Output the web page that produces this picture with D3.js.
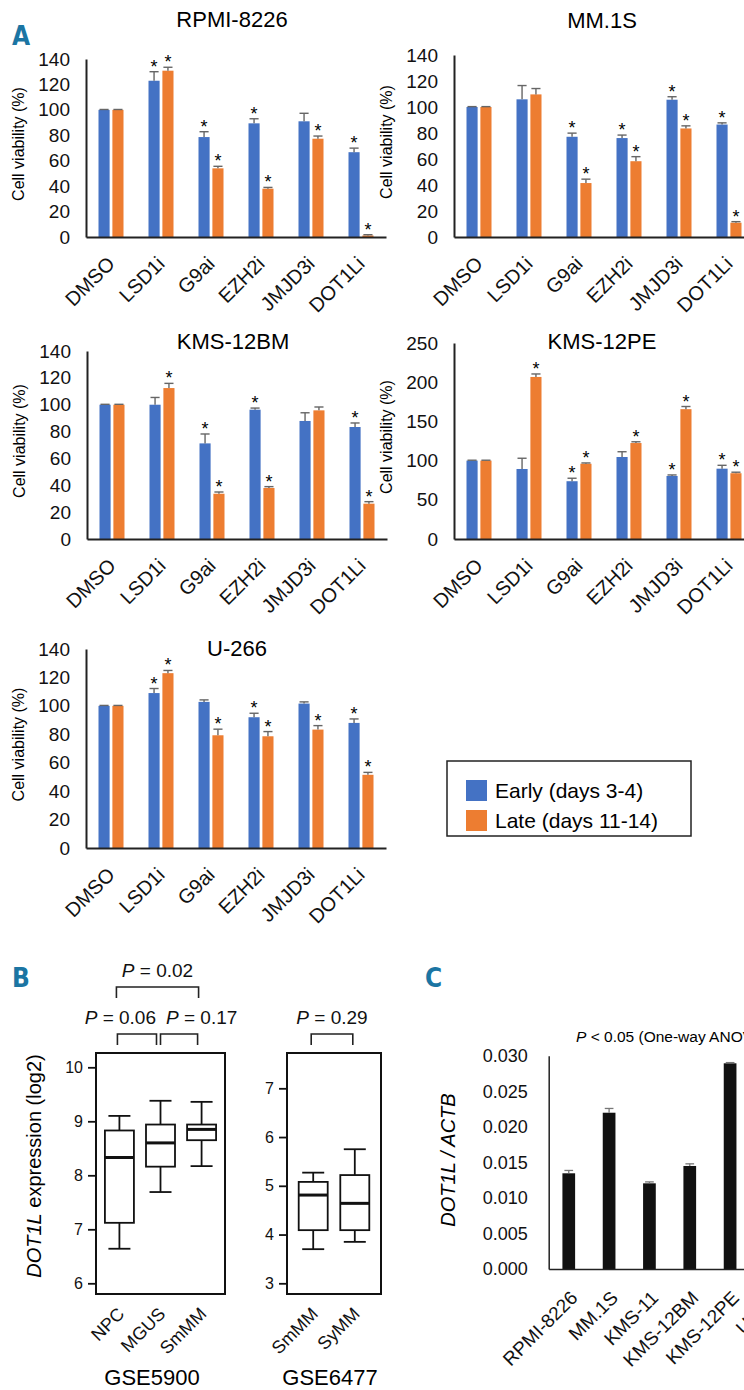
<!DOCTYPE html>
<html>
<head>
<meta charset="utf-8">
<script src="https://cdn.jsdelivr.net/npm/d3@7"></script>
<style>
  body { margin: 0; background: #fff; }
  svg { display: block; font-family: "Liberation Sans", Arial, sans-serif; }
</style>
</head>
<body>
<svg id="fig" width="744" height="1390"></svg>
<script>
// Panel A: viability after epigenetic inhibitors (early vs late)
var treatments = ["DMSO", "LSD1i", "G9ai", "EZH2i", "JMJD3i", "DOT1Li"];
var seriesNames = ["Early (days 3-4)", "Late (days 11-14)"];

var rpmiEarly = [100, 122.9, 78.6, 89.4, 91.0, 66.7];
var rpmiEarlySd = [0.3, 7.1, 4.2, 3.6, 6.3, 3.2];
var rpmiLate = [100, 130.8, 54.0, 38.0, 77.3, 1.2];
var rpmiLateSd = [0.3, 2.7, 1.6, 1.0, 2.1, 0.6];
var rpmiStarEarly = [0, 1, 1, 1, 0, 1];
var rpmiStarLate = [0, 1, 1, 1, 1, 1];

var mm1sEarly = [100, 105.9, 77.1, 76.1, 105.6, 86.5];
var mm1sEarlySd = [0.3, 10.6, 2.8, 2.3, 2.3, 1.3];
var mm1sLate = [100, 109.7, 41.5, 58.3, 83.5, 11.0];
var mm1sLateSd = [0.3, 4.5, 3.0, 3.5, 2.0, 0.8];
var mm1sStarEarly = [0, 0, 1, 1, 1, 1];
var mm1sStarLate = [0, 0, 1, 1, 1, 1];

var bmEarly = [100, 100, 71.2, 96.3, 87.9, 83.4];
var bmEarlySd = [0.3, 5.4, 7.0, 1.2, 6.1, 3.0];
var bmLate = [100, 112.4, 33.7, 38.0, 95.8, 26.3];
var bmLateSd = [0.3, 3.5, 1.3, 1.0, 2.5, 1.5];
var bmStarEarly = [0, 0, 1, 1, 0, 1];
var bmStarLate = [0, 1, 1, 1, 0, 1];

var peEarly = [100, 89.3, 73.7, 104.6, 80.4, 89.7];
var peEarlySd = [0.5, 13.7, 3.8, 6.7, 1.3, 4.3];
var peLate = [100, 206.7, 96.0, 122.4, 165.6, 83.9];
var peLateSd = [0.5, 3.8, 1.0, 1.6, 3.4, 1.3];
var peStarEarly = [0, 0, 1, 0, 1, 1];
var peStarLate = [0, 1, 1, 1, 1, 1];

var u266Early = [100, 109.0, 102.8, 92.0, 101.6, 88.0];
var u266EarlySd = [0.3, 3.2, 1.4, 2.8, 1.2, 2.8];
var u266Late = [100, 123.0, 79.3, 78.6, 83.3, 51.5];
var u266LateSd = [0.3, 1.9, 4.3, 3.3, 2.8, 1.7];
var u266StarEarly = [0, 1, 0, 1, 0, 1];
var u266StarLate = [0, 1, 1, 1, 1, 1];

// Panel B: DOT1L expression boxplots
var gse5900Groups = ["NPC", "MGUS", "SmMM"];
var gse5900Min = [6.64, 7.69, 8.17];
var gse5900Q1 = [7.12, 8.16, 8.65];
var gse5900Med = [8.33, 8.60, 8.85];
var gse5900Q3 = [8.83, 8.94, 8.94];
var gse5900Max = [9.10, 9.38, 9.36];

var gse6477Groups = ["SmMM", "SyMM"];
var gse6477Min = [3.70, 3.85];
var gse6477Q1 = [4.09, 4.09];
var gse6477Med = [4.81, 4.64];
var gse6477Q3 = [5.08, 5.22];
var gse6477Max = [5.27, 5.75];

// Panel C: DOT1L / ACTB in cell lines (last one runs off the page)
var cellLines = ["RPMI-8226", "MM.1S", "KMS-11", "KMS-12BM", "KMS-12PE", "U-266"];
var dot1lRatio = [0.01346, 0.02198, 0.01205, 0.01449, 0.02893, null];
var dot1lSd = [0.0004, 0.0006, 0.0002, 0.0003, 0.0001, null];

var blue = "#4472c4", orange = "#ed7d31", teal = "#1b75a3";
var svg = d3.select("#fig");
svg.append("rect").attr("width", 744).attr("height", 1390).attr("fill", "#fff");

// panel letters
[["A", 12, 45], ["B", 12, 987], ["C", 425, 987]].forEach(function(p) {
    svg.append("text")
        .attr("x", p[1]).attr("y", p[2])
        .attr("font-family", "'Liberation Sans Narrow', 'DejaVu Sans Condensed', sans-serif")
        .attr("font-weight", "bold").attr("font-size", 26)
        .attr("fill", teal).text(p[0]);
});

// one grouped bar chart of panel A
function barPanel(o) {
    var g = svg.append("g");
    var x0 = d3.scaleBand().domain(treatments).range([o.left, o.left + 300]).paddingInner(0.5).paddingOuter(0.25);
    var x1 = d3.scaleBand().domain([0, 1]).range([0, x0.bandwidth()]).paddingInner(0.2);
    var y = d3.scaleLinear().domain([0, o.max]).range([o.bottom, o.top]);

    var rows = [];
    treatments.forEach(function(t, i) {
        rows.push({t: t, s: 0, v: o.early[i], sd: o.earlySd[i], star: o.starEarly[i]});
        rows.push({t: t, s: 1, v: o.late[i], sd: o.lateSd[i], star: o.starLate[i]});
    });

    g.selectAll("rect.bar").data(rows).enter().append("rect")
        .attr("class", "bar")
        .attr("x", function(d) { return x0(d.t) + x1(d.s); })
        .attr("width", x1.bandwidth())
        .attr("y", function(d) { return y(d.v); })
        .attr("height", function(d) { return y(0) - y(d.v); })
        .attr("fill", function(d) { return d.s == 0 ? blue : orange; });

    // upper error bars only
    var eb = g.selectAll("g.err").data(rows).enter().append("g").attr("class", "err")
        .attr("stroke", "#666").attr("stroke-width", 1.4);
    eb.append("line")
        .attr("x1", function(d) { return x0(d.t) + x1(d.s) + x1.bandwidth() / 2; })
        .attr("x2", function(d) { return x0(d.t) + x1(d.s) + x1.bandwidth() / 2; })
        .attr("y1", function(d) { return y(d.v); })
        .attr("y2", function(d) { return y(d.v + d.sd); });
    eb.append("line")
        .attr("x1", function(d) { return x0(d.t) + x1(d.s) + 1; })
        .attr("x2", function(d) { return x0(d.t) + x1(d.s) + x1.bandwidth() - 1; })
        .attr("y1", function(d) { return y(d.v + d.sd); })
        .attr("y2", function(d) { return y(d.v + d.sd); });

    g.selectAll("text.star").data(rows.filter(function(d) { return d.star; })).enter().append("text")
        .attr("class", "star")
        .attr("x", function(d) { return x0(d.t) + x1(d.s) + x1.bandwidth() / 2; })
        .attr("y", function(d) { return y(d.v + d.sd) + 1; })
        .attr("text-anchor", "middle").attr("font-size", 18).text("*");

    // axes, Excel style: no tick marks
    g.append("g")
        .attr("transform", "translate(" + o.left + ",0)")
        .call(d3.axisLeft(y).tickValues(d3.range(0, o.max + 1, o.step)).tickSize(0).tickPadding(16))
        .call(function(a) {
            a.select(".domain").attr("stroke", "#222").attr("stroke-width", 2);
            a.selectAll("text").attr("font-size", 19).attr("fill", "#111").attr("font-family", null);
        });
    g.append("g")
        .attr("transform", "translate(0," + o.bottom + ")")
        .call(d3.axisBottom(x0).tickSize(0).tickSizeOuter(0))
        .call(function(a) {
            a.select(".domain").attr("stroke", "#222").attr("stroke-width", 2);
            a.selectAll("text")
                .attr("y", 0).attr("dy", 0)
                .attr("text-anchor", "end")
                .attr("transform", "translate(5,28) rotate(-45)")
                .attr("font-size", 20).attr("fill", "#111").attr("font-family", null);
        });

    g.append("text")
        .attr("x", o.titleX).attr("y", o.titleY)
        .attr("text-anchor", "middle").attr("font-size", 22).text(o.title);
    g.append("text")
        .attr("transform", "translate(" + (o.left - 62) + "," + ((o.bottom + o.top) / 2 - 4) + ") rotate(-90)")
        .attr("text-anchor", "middle").attr("font-size", 16).text("Cell viability (%)");
}

barPanel({title: "RPMI-8226", titleX: 232, titleY: 27, left: 86, bottom: 237, top: 59, max: 140, step: 20,
    early: rpmiEarly, earlySd: rpmiEarlySd, late: rpmiLate, lateSd: rpmiLateSd, starEarly: rpmiStarEarly, starLate: rpmiStarLate});
barPanel({title: "MM.1S", titleX: 602, titleY: 28, left: 454, bottom: 237, top: 55, max: 140, step: 20,
    early: mm1sEarly, earlySd: mm1sEarlySd, late: mm1sLate, lateSd: mm1sLateSd, starEarly: mm1sStarEarly, starLate: mm1sStarLate});
barPanel({title: "KMS-12BM", titleX: 233, titleY: 349, left: 87, bottom: 539, top: 351, max: 140, step: 20,
    early: bmEarly, earlySd: bmEarlySd, late: bmLate, lateSd: bmLateSd, starEarly: bmStarEarly, starLate: bmStarLate});
barPanel({title: "KMS-12PE", titleX: 602, titleY: 349, left: 454, bottom: 539, top: 343, max: 250, step: 50,
    early: peEarly, earlySd: peEarlySd, late: peLate, lateSd: peLateSd, starEarly: peStarEarly, starLate: peStarLate});
barPanel({title: "U-266", titleX: 237, titleY: 656, left: 86, bottom: 848, top: 649, max: 140, step: 20,
    early: u266Early, earlySd: u266EarlySd, late: u266Late, lateSd: u266LateSd, starEarly: u266StarEarly, starLate: u266StarLate});

// legend
var leg = svg.append("g");
leg.append("rect").attr("x", 447).attr("y", 761).attr("width", 244).attr("height", 75)
    .attr("fill", "none").attr("stroke", "#222").attr("stroke-width", 1.5);
seriesNames.forEach(function(s, i) {
    leg.append("rect").attr("x", 466).attr("y", 780 + i * 30).attr("width", 21).attr("height", 21)
        .attr("fill", i == 0 ? blue : orange);
    leg.append("text").attr("x", 495).attr("y", 798 + i * 30).attr("font-size", 21).text(s);
});

// boxplot panel of B
function boxPanel(o) {
    var g = svg.append("g");
    var x = d3.scalePoint().domain(o.groups).range([o.left, o.right]).padding(o.pad);
    var y = d3.scaleLinear().domain(o.domain).range(o.yRange);
    var rows = o.groups.map(function(k, i) {
        return {k: k, min: o.min[i], q1: o.q1[i], med: o.med[i], q3: o.q3[i], max: o.max[i]};
    });
    var bw = 29, cw = 22;
    var b = g.selectAll("g.box").data(rows).enter().append("g")
        .attr("stroke", "#111").attr("stroke-width", 1.8).attr("fill", "none");
    b.append("line").attr("x1", function(d) { return x(d.k); }).attr("x2", function(d) { return x(d.k); })
        .attr("y1", function(d) { return y(d.min); }).attr("y2", function(d) { return y(d.q1); });
    b.append("line").attr("x1", function(d) { return x(d.k); }).attr("x2", function(d) { return x(d.k); })
        .attr("y1", function(d) { return y(d.q3); }).attr("y2", function(d) { return y(d.max); });
    ["min", "max"].forEach(function(f) {
        b.append("line").attr("x1", function(d) { return x(d.k) - cw / 2; }).attr("x2", function(d) { return x(d.k) + cw / 2; })
            .attr("y1", function(d) { return y(d[f]); }).attr("y2", function(d) { return y(d[f]); });
    });
    b.append("rect").attr("x", function(d) { return x(d.k) - bw / 2; }).attr("width", bw)
        .attr("y", function(d) { return y(d.q3); }).attr("height", function(d) { return y(d.q1) - y(d.q3); });
    b.append("line").attr("stroke-width", 3)
        .attr("x1", function(d) { return x(d.k) - bw / 2; }).attr("x2", function(d) { return x(d.k) + bw / 2; })
        .attr("y1", function(d) { return y(d.med); }).attr("y2", function(d) { return y(d.med); });

    g.append("rect").attr("x", o.left).attr("y", o.top).attr("width", o.right - o.left).attr("height", o.bottom - o.top)
        .attr("fill", "none").attr("stroke", "#111").attr("stroke-width", 2);
    g.append("g").attr("transform", "translate(" + o.left + ",0)")
        .call(d3.axisLeft(y).ticks(4).tickSize(8).tickPadding(5).tickFormat(d3.format("d")))
        .call(function(a) {
            a.select(".domain").remove();
            a.selectAll("line").attr("stroke", "#111").attr("stroke-width", 1.8);
            a.selectAll("text").attr("font-size", 16).attr("fill", "#111").attr("font-family", null);
        });
    g.selectAll("text.cat").data(o.groups).enter().append("text")
        .attr("transform", function(d) { return "translate(" + (x(d) + 6) + "," + (o.bottom + 21) + ") rotate(-45)"; })
        .attr("text-anchor", "end").attr("font-size", 18).attr("fill", "#111").text(function(d) { return d; });
    g.append("text").attr("x", o.labelX).attr("y", 1385).attr("text-anchor", "middle")
        .attr("font-size", 22).text(o.label);

    // significance brackets
    o.brackets.forEach(function(br) {
        var xa = x(br.a) + br.da, xb = x(br.b) + br.db;
        g.append("path")
            .attr("d", "M" + xa + "," + (br.y + 11) + "V" + br.y + "H" + xb + "V" + (br.y + 11))
            .attr("fill", "none").attr("stroke", "#222").attr("stroke-width", 1.6);
        var t = g.append("text").attr("x", br.tx == null ? (xa + xb) / 2 : br.tx).attr("y", br.y - 10)
            .attr("text-anchor", br.anchor || "middle").attr("font-size", 19).attr("fill", "#111");
        t.append("tspan").attr("font-style", "italic").text("P");
        t.append("tspan").text(" = " + br.p);
    });
}

boxPanel({groups: gse5900Groups, min: gse5900Min, q1: gse5900Q1, med: gse5900Med, q3: gse5900Q3, max: gse5900Max,
    left: 96, right: 225, top: 1053, bottom: 1294, pad: 0.57, domain: [6, 10], yRange: [1283.3, 1067.3],
    label: "GSE5900", labelX: 152,
    brackets: [
        {a: "NPC", b: "SmMM", da: -3, db: -3, y: 987, p: "0.02"},
        {a: "NPC", b: "MGUS", da: -2, db: -4, y: 1034, p: "0.06", tx: 156, anchor: "end"},
        {a: "MGUS", b: "SmMM", da: 0, db: -4, y: 1034, p: "0.17", tx: 166, anchor: "start"}
    ]});
boxPanel({groups: gse6477Groups, min: gse6477Min, q1: gse6477Q1, med: gse6477Med, q3: gse6477Q3, max: gse6477Max,
    left: 287, right: 381, top: 1053, bottom: 1294, pad: 0.63, domain: [3, 7], yRange: [1283.3, 1088.3],
    label: "GSE6477", labelX: 330,
    brackets: [{a: "SmMM", b: "SyMM", da: -2, db: -2, y: 1034, p: "0.29"}]});

var yt = svg.append("text")
    .attr("transform", "translate(41,1166) rotate(-90)")
    .attr("text-anchor", "middle").attr("font-size", 20);
yt.append("tspan").attr("font-style", "italic").text("DOT1L");
yt.append("tspan").text(" expression (log2)");

// panel C bars
var cx = d3.scaleBand().domain(cellLines).range([548.7, 548.7 + 40.3 * cellLines.length]).paddingInner(0.685).paddingOuter(0.34);
var cy = d3.scaleLinear().domain([0, 0.03]).range([1269, 1055.7]);
var cRows = cellLines.map(function(c, i) { return {c: c, v: dot1lRatio[i], sd: dot1lSd[i]}; })
    .filter(function(d) { return d.v != null; });
var gc = svg.append("g");
gc.selectAll("rect").data(cRows).enter().append("rect")
    .attr("x", function(d) { return cx(d.c); }).attr("width", cx.bandwidth())
    .attr("y", function(d) { return cy(d.v); }).attr("height", function(d) { return cy(0) - cy(d.v); })
    .attr("fill", "#111");
var ce = gc.selectAll("g.err").data(cRows).enter().append("g").attr("stroke", "#777").attr("stroke-width", 1.3);
ce.append("line")
    .attr("x1", function(d) { return cx(d.c) + cx.bandwidth() / 2; }).attr("x2", function(d) { return cx(d.c) + cx.bandwidth() / 2; })
    .attr("y1", function(d) { return cy(d.v); }).attr("y2", function(d) { return cy(d.v + d.sd); });
ce.append("line")
    .attr("x1", function(d) { return cx(d.c) + 2; }).attr("x2", function(d) { return cx(d.c) + cx.bandwidth() - 2; })
    .attr("y1", function(d) { return cy(d.v + d.sd); }).attr("y2", function(d) { return cy(d.v + d.sd); });

gc.append("g").attr("transform", "translate(548.7,0)")
    .call(d3.axisLeft(cy).tickValues(d3.range(0, 0.0301, 0.005)).tickSize(0).tickPadding(21).tickFormat(d3.format(".3f")))
    .call(function(a) {
        a.select(".domain").attr("stroke", "#222").attr("stroke-width", 1.5);
        a.selectAll("text").attr("font-size", 18).attr("fill", "#111").attr("font-family", null);
    });
gc.append("g").attr("transform", "translate(0,1269)")
    .call(d3.axisBottom(cx).tickSize(0).tickSizeOuter(0))
    .call(function(a) {
        a.select(".domain").attr("stroke", "#222").attr("stroke-width", 1.5);
        a.selectAll("text")
            .attr("y", 0).attr("dy", 0)
            .attr("text-anchor", "end")
            .attr("transform", "translate(10,30) rotate(-45)")
            .attr("font-size", 19).attr("fill", "#111").attr("font-family", null);
    });
gc.append("text").attr("transform", "translate(455,1160) rotate(-90)")
    .attr("text-anchor", "middle").attr("font-size", 20).attr("font-style", "italic").text("DOT1L / ACTB");
var cp = gc.append("text").attr("x", 576).attr("y", 1042).attr("font-size", 15.5);
cp.append("tspan").attr("font-style", "italic").text("P");
cp.append("tspan").text(" < 0.05 (One-way ANOVA)");
</script>
</body>
</html>
